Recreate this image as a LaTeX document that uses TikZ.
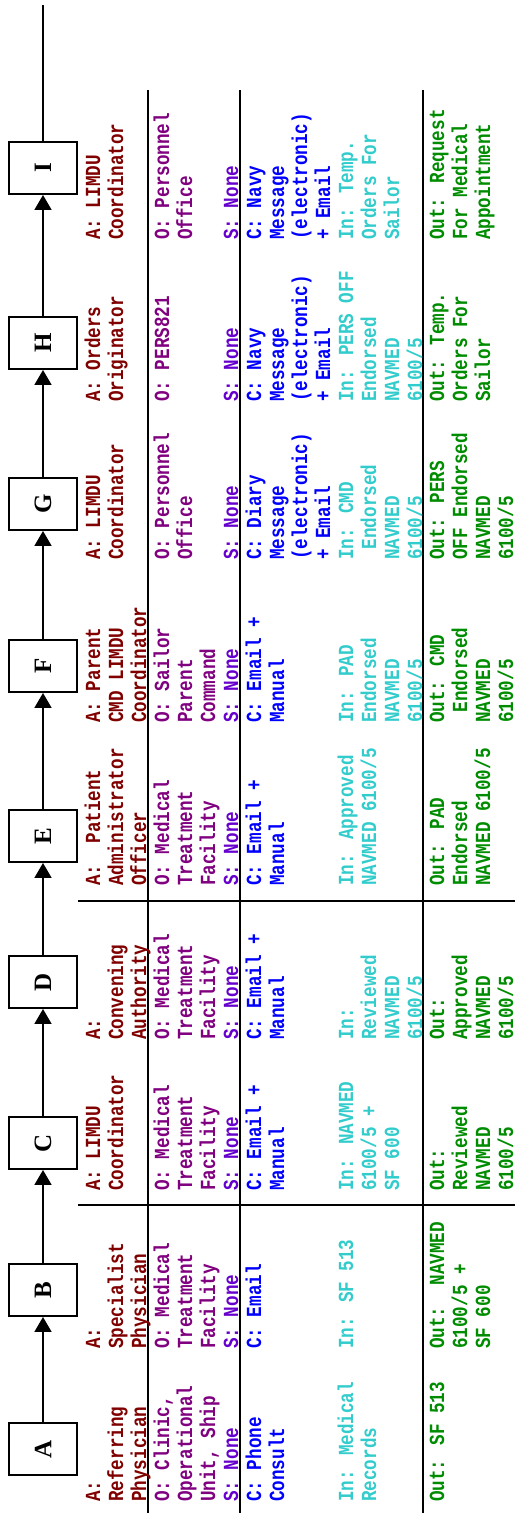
\documentclass[tikz,border=0pt]{standalone}
\usepackage{fontspec}
\usepackage{tikz}
\usetikzlibrary{arrows.meta}
\newfontfamily\monofamily[FakeStretch=0.82]{Liberation Mono}
\newfontfamily\labelfamily{Liberation Serif}
\definecolor{maroon}{RGB}{128,0,0}
\definecolor{plum}{RGB}{128,0,128}
\definecolor{indigo}{RGB}{102,0,204}
\definecolor{azure}{RGB}{0,0,255}
\definecolor{aqua}{RGB}{51,204,204}
\definecolor{leaf}{RGB}{0,140,0}
\newcommand{\cellstack}[1]{\begin{tabular}[t]{@{}l@{}}#1\end{tabular}}
\tikzset{
  >={Triangle[length=15pt,width=17pt]},
  stage/.style={draw,line width=2pt,minimum width=52pt,minimum height=68pt,inner sep=0pt,
    font=\labelfamily\bfseries\fontsize{25}{28}\selectfont},
  flow/.style={->,line width=1.8pt},
  rule/.style={line width=2pt},
  info/.style={anchor=base west,inner sep=0pt,text=#1,
    font=\monofamily\bfseries\fontsize{21.5}{23}\selectfont},
}
\begin{document}
\begin{tikzpicture}[x=1pt,y=1pt,rotate=90,transform shape]
  \useasboundingbox (0,0) rectangle (1513,-515);
  % stages
  \foreach \n/\x in {A/64,B/223,C/370,D/531,E/677,F/847,G/1009,H/1170,I/1345}
    \node[stage] (\n) at (\x,-43) {\n};
  \foreach \a/\b in {A/B,B/C,C/D,D/E,E/F,F/G,G/H,H/I}
    \draw[flow] (\a) -- (\b);
  \coordinate (end) at (1508,-43);
  \draw[flow,-] (I) -- (end);
  % table rules
  \draw[rule] (0,-148) -- (1423,-148);
  \draw[rule] (0,-240) -- (1423,-240);
  \draw[rule] (0,-423) -- (1423,-423);
  \draw[rule] (308,-78) -- (308,-515);
  \draw[rule] (612,-78) -- (612,-515);
  % A
  \node[info=maroon] (actA) at (11,-100) {\cellstack{A:\\Referring\\Physician}};
  \node[info=plum] (orgA) at (11,-169) {\cellstack{O: Clinic,\\Operational\\Unit, Ship}};
  \node[info=indigo] (sysA) at (11,-238) {S: None};
  \node[info=azure] (comA) at (11,-261) {\cellstack{C: Phone\\Consult}};
  \node[info=aqua] (inA) at (11,-353) {\cellstack{In: Medical\\Records}};
  \node[info=leaf] (outA) at (11,-444) {Out: SF 513};
  % B
  \node[info=maroon] (actB) at (164,-100) {\cellstack{A:\\Specialist\\Physician}};
  \node[info=plum] (orgB) at (164,-169) {\cellstack{O: Medical\\Treatment\\Facility}};
  \node[info=indigo] (sysB) at (164,-238) {S: None};
  \node[info=azure] (comB) at (164,-261) {C: Email};
  \node[info=aqua] (inB) at (164,-353) {In: SF 513};
  \node[info=leaf] (outB) at (164,-444) {\cellstack{Out:~~NAVMED\\6100/5 +\\SF 600}};
  % C
  \node[info=maroon] (actC) at (322,-100) {\cellstack{A: LIMDU\\Coordinator}};
  \node[info=plum] (orgC) at (322,-169) {\cellstack{O: Medical\\Treatment\\Facility}};
  \node[info=indigo] (sysC) at (322,-238) {S: None};
  \node[info=azure] (comC) at (322,-261) {\cellstack{C: Email +\\Manual}};
  \node[info=aqua] (inC) at (322,-353) {\cellstack{In: NAVMED\\6100/5 +\\SF 600}};
  \node[info=leaf] (outC) at (322,-444) {\cellstack{Out:\\Reviewed\\NAVMED\\6100/5}};
  % D
  \node[info=maroon] (actD) at (473,-100) {\cellstack{A:\\Convening\\Authority}};
  \node[info=plum] (orgD) at (473,-169) {\cellstack{O: Medical\\Treatment\\Facility}};
  \node[info=indigo] (sysD) at (473,-238) {S: None};
  \node[info=azure] (comD) at (473,-261) {\cellstack{C: Email +\\Manual}};
  \node[info=aqua] (inD) at (473,-353) {\cellstack{In:\\Reviewed\\NAVMED\\6100/5}};
  \node[info=leaf] (outD) at (473,-444) {\cellstack{Out:\\Approved\\NAVMED\\6100/5}};
  % E
  \node[info=maroon] (actE) at (627,-100) {\cellstack{A:~~Patient\\Administrator\\Officer}};
  \node[info=plum] (orgE) at (627,-169) {\cellstack{O: Medical\\Treatment\\Facility}};
  \node[info=indigo] (sysE) at (627,-238) {S: None};
  \node[info=azure] (comE) at (627,-261) {\cellstack{C: Email +\\Manual}};
  \node[info=aqua] (inE) at (627,-353) {\cellstack{In: Approved\\NAVMED 6100/5}};
  \node[info=leaf] (outE) at (627,-444) {\cellstack{Out: PAD\\Endorsed\\NAVMED 6100/5}};
  % F
  \node[info=maroon] (actF) at (790,-100) {\cellstack{A: Parent\\CMD LIMDU\\Coordinator}};
  \node[info=plum] (orgF) at (790,-169) {\cellstack{O: Sailor\\Parent\\Command}};
  \node[info=indigo] (sysF) at (790,-238) {S: None};
  \node[info=azure] (comF) at (790,-261) {\cellstack{C: Email +\\Manual}};
  \node[info=aqua] (inF) at (790,-353) {\cellstack{In: PAD\\Endorsed\\NAVMED\\6100/5}};
  \node[info=leaf] (outF) at (790,-444) {\cellstack{Out: CMD\\~Endorsed\\NAVMED\\6100/5}};
  % G
  \node[info=maroon] (actG) at (953,-100) {\cellstack{A: LIMDU\\Coordinator}};
  \node[info=plum] (orgG) at (953,-169) {\cellstack{O: Personnel\\Office}};
  \node[info=indigo] (sysG) at (953,-238) {S: None};
  \node[info=azure] (comG) at (953,-261) {\cellstack{C: Diary\\Message\\(electronic)\\+ Email}};
  \node[info=aqua] (inG) at (953,-353) {\cellstack{In: CMD\\~Endorsed\\NAVMED\\6100/5}};
  \node[info=leaf] (outG) at (953,-444) {\cellstack{Out: PERS\\OFF Endorsed\\NAVMED\\6100/5}};
  % H
  \node[info=maroon] (actH) at (1111,-100) {\cellstack{A: Orders\\Originator}};
  \node[info=plum] (orgH) at (1111,-169) {O: PERS821};
  \node[info=indigo] (sysH) at (1111,-238) {S: None};
  \node[info=azure] (comH) at (1111,-261) {\cellstack{C: Navy\\Message\\(electronic)\\+ Email}};
  \node[info=aqua] (inH) at (1111,-353) {\cellstack{In: PERS OFF\\Endorsed\\NAVMED\\6100/5}};
  \node[info=leaf] (outH) at (1111,-444) {\cellstack{Out: Temp.\\Orders For\\Sailor}};
  % I
  \node[info=maroon] (actI) at (1273,-100) {\cellstack{A: LIMDU\\Coordinator}};
  \node[info=plum] (orgI) at (1273,-169) {\cellstack{O: Personnel\\Office}};
  \node[info=indigo] (sysI) at (1273,-238) {S: None};
  \node[info=azure] (comI) at (1273,-261) {\cellstack{C: Navy\\Message\\(electronic)\\+ Email}};
  \node[info=aqua] (inI) at (1273,-353) {\cellstack{In: Temp.\\Orders For\\Sailor}};
  \node[info=leaf] (outI) at (1273,-444) {\cellstack{Out: Request\\For Medical\\Appointment}};
\end{tikzpicture}
\end{document}
